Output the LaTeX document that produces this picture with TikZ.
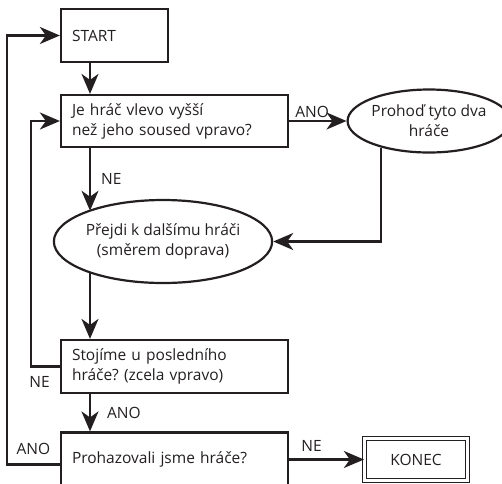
\documentclass[tikz,border=0pt]{standalone}
\usepackage{fontspec}
\setmainfont{Open Sans}
\usepackage{xcolor}
\usepackage{tikz}
\usetikzlibrary{arrows.meta,positioning,shapes.geometric}
\definecolor{ink}{RGB}{35,31,32}
\frenchspacing

\begin{document}
\begin{tikzpicture}[x=1pt, y=-1pt, line width=2.2pt, draw=ink, text=ink,
  txt/.style={font=\fontsize{15.5}{20}\selectfont},
  stepbox/.style={draw, txt, inner xsep=11pt, inner ysep=0pt, align=left, text width=205pt, minimum height=52pt},
  oval/.style={draw, ellipse, txt, align=center, inner sep=0pt},
  flow/.style={-{Stealth[length=20pt, width=17pt, inset=6pt]}},
  lbl/.style={txt, inner sep=2pt}]
  \clip (0,0) rectangle (502,483);
  \node[stepbox, text width=85pt, minimum height=53pt] (start) at (114.5,35.5) {START};
  \node[stepbox] (ask) at (174.5,121) {Je hráč vlevo vyšší\\než jeho soused vpravo?};
  \node[oval, minimum width=143pt, minimum height=63pt] (swap) at (429,121) {Prohoď tyto dva\\hráče};
  \node[oval, minimum width=203pt, minimum height=83pt] (next) at (163,241.5) {Přejdi k dalšímu hráči\\(směrem doprava)};
  \node[stepbox, minimum height=53pt] (last) at (174.5,366.5) {Stojíme u posledního\\hráče? (zcela vpravo)};
  \node[stepbox, minimum height=54pt] (again) at (174.5,459.5) {Prohazovali jsme hráče?};
  \node[draw, double, double distance=2.5pt, line width=1.2pt, txt, minimum width=103pt, minimum height=42pt] (konec) at (416,459.5) {KONEC};
  \coordinate (spine) at (90,0);
  \draw[flow] (spine |- start.south) -- (spine |- ask.north);
  \draw[flow] (spine |- ask.south) -- node[lbl, right, xshift=8pt] {NE} (spine |- next.158);
  \draw[flow] (ask) -- node[lbl, above, pos=.4] {ANO} (swap);
  \draw[flow] (swap.209) |- (next.east);
  \draw[flow] (spine |- next.202) -- (spine |- last.north);
  \draw[flow] (last.west) -- node[lbl, below, pos=.7, yshift=-7pt] {NE} ++(-29,0) |- (ask.west);
  \draw[flow] (spine |- last.south) -- node[lbl, right, xshift=14pt] {ANO} (spine |- again.north);
  \draw[flow] ([yshift=-5pt]again.west) -- node[lbl, above, yshift=7pt] {ANO} ++(-53,0) |- (start.west);
  \draw[flow] (again) -- node[lbl, above, pos=.3, yshift=5pt] {NE} (konec);
\end{tikzpicture}
\end{document}
